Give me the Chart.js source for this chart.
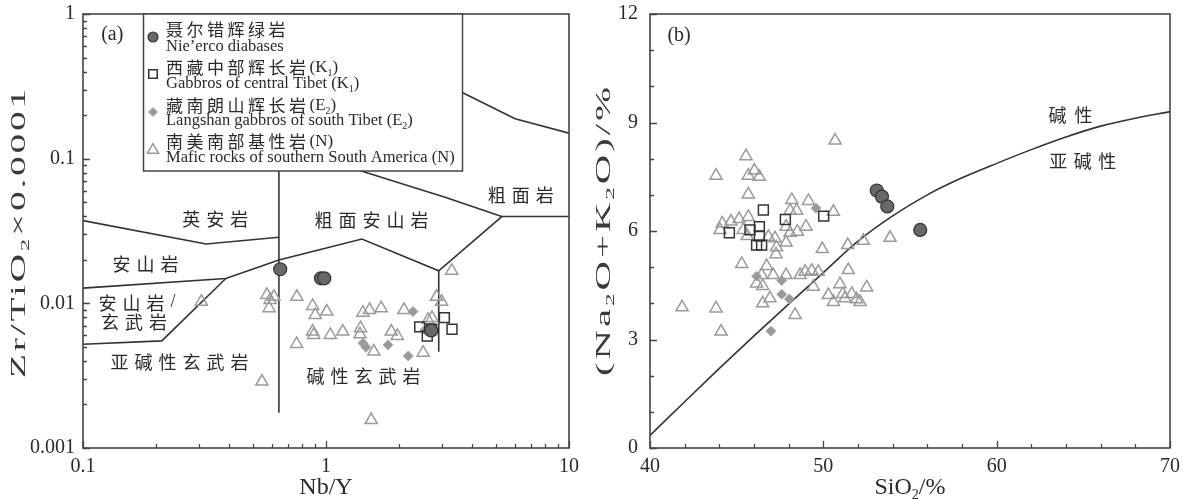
<!DOCTYPE html>
<html>
<head>
<meta charset="utf-8">
<script src="https://cdn.jsdelivr.net/npm/chart.js@4.4.0/dist/chart.umd.min.js"></script>
<style>
  body { margin: 0; background: #fff; width: 1183px; height: 499px; overflow: hidden; position: relative; }
  canvas { position: absolute; top: 0; }
  #chartA { left: 0; }
  #chartB { left: 590px; }
</style>
</head>
<body>
<canvas id="chartA" width="590" height="499"></canvas>
<canvas id="chartB" width="593" height="499"></canvas>
<script>
// ---------- panel (a): Zr/TiO2 vs Nb/Y ----------
const nbyTicks = [0.1, 1, 10];
const zrTicks = [0.001, 0.01, 0.1, 1];

const nieercoA = [[0.648, 0.0172], [0.953, 0.0149], [0.984, 0.0149], [2.71, 0.0065]];
const tibetA = [[2.43, 0.00687], [2.61, 0.00595], [3.07, 0.00797], [3.30, 0.00662], [2.72, 0.00662]];
const langshanA = [[2.28, 0.00877], [1.42, 0.0053], [1.46, 0.00497], [1.80, 0.00516], [2.18, 0.00433], [2.55, 0.00655]];
const maficA = [
  [0.307, 0.01027], [0.571, 0.01143], [0.611, 0.0111], [0.589, 0.01055], [0.583, 0.00925],
  [0.759, 0.0111], [0.757, 0.00524], [0.545, 0.00288], [0.881, 0.0096], [0.903, 0.00831],
  [1.007, 0.00877], [0.881, 0.00638], [0.89, 0.00605], [1.042, 0.00605], [1.172, 0.00638],
  [1.387, 0.00673], [1.38, 0.00611], [1.419, 0.00862], [1.51, 0.0090], [1.687, 0.00925],
  [1.573, 0.00464], [1.535, 0.00156], [1.857, 0.00638], [1.965, 0.00595], [2.094, 0.0090],
  [2.51, 0.00456], [2.63, 0.00768], [2.73, 0.00792], [2.85, 0.0111], [2.99, 0.01027], [3.29, 0.01683]
];

// field boundaries (Winchester & Floyd)
const fieldLinesA = [
  [[0.1, 0.0373], [0.321, 0.0257], [0.64, 0.0286]],
  [[0.64, 0.09], [0.64, 0.00175]],
  [[0.1, 0.01273], [0.387, 0.01486], [0.64, 0.0199], [1.405, 0.0278], [2.91, 0.0168], [5.29, 0.0398], [10, 0.0398]],
  [[0.1, 0.00521], [0.211, 0.0055], [0.387, 0.01486]],
  [[2.91, 0.0168], [2.91, 0.00463]],
  [[1.2, 0.089], [3.09, 0.0541], [5.29, 0.0398]],
  [[3.4, 0.303], [6.0, 0.189], [10, 0.150]]
];

const fieldNamesA = ['英安岩', '粗面安山岩', '粗面岩', '安山岩', '安山岩/', '玄武岩', '亚碱性玄武岩', '碱性玄武岩'];
const fieldAtA = [[0.3605, 0.0383], [1.582, 0.0373], [6.51, 0.0556], [0.186, 0.01867], [0.167, 0.0101], [0.167, 0.00736], [0.2565, 0.00389], [1.467, 0.00314]];

// ---------- panel (b): TAS alkaline / subalkaline ----------
const sio2Ticks = [40, 50, 60, 70];
const alkTicks = [0, 3, 6, 9, 12];

const nieercoB = [[53.08, 7.12], [53.38, 6.95], [53.69, 6.68], [55.59, 6.03]];
const tibetB = [[44.58, 5.95], [46.54, 6.58], [46.31, 6.12], [46.31, 5.86], [46.15, 5.61], [46.44, 5.61], [47.81, 6.32], [50.02, 6.41], [45.77, 6.03]];
const langshanB = [[49.58, 6.63], [47.6, 4.25], [48.04, 4.12], [46.98, 3.23], [46.15, 4.75], [47.6, 4.63]];
const maficB = [
  [50.68, 8.50], [45.54, 8.07], [43.81, 7.53], [46.02, 7.67], [45.67, 7.53], [46.31, 7.50], [45.67, 7.01],
  [48.18, 6.86], [49.14, 6.83], [48.08, 6.56], [48.46, 6.56], [50.58, 6.53], [44.17, 6.21], [44.67, 6.26],
  [45.14, 6.33], [45.67, 6.39], [44.04, 6.03], [45.38, 6.03], [45.61, 5.86], [46.83, 5.84], [47.21, 5.80],
  [47.85, 6.12], [48.08, 5.95], [48.5, 5.98], [49.0, 6.12], [47.85, 5.68], [47.3, 5.55], [47.27, 5.36],
  [49.94, 5.50], [51.41, 5.61], [52.31, 5.73], [53.85, 5.81], [45.29, 5.09], [46.73, 5.03],
  [46.44, 4.78], [47.11, 4.78], [47.85, 4.78], [48.66, 4.78], [48.95, 4.87], [49.33, 4.90], [49.71, 4.87],
  [51.44, 4.92], [46.15, 4.55], [46.5, 4.48], [49.42, 4.46], [50.96, 4.53], [52.5, 4.44], [46.92, 4.14],
  [46.5, 4.0], [50.29, 4.23], [50.58, 4.04], [51.12, 4.26], [51.25, 4.14], [51.64, 4.26], [51.92, 4.11],
  [52.12, 4.04], [41.85, 3.89], [43.81, 3.86], [48.37, 3.68], [44.1, 3.22]
];

// Irvine & Baragar boundary
const boundarySiO2 = [40, 42, 44, 46, 48, 50, 52, 54, 56, 58, 60, 62, 64, 66, 68, 70];
const boundaryAlk = [0.35, 1.28, 2.2, 3.1, 3.98, 4.85, 5.72, 6.42, 7.0, 7.47, 7.87, 8.25, 8.6, 8.9, 9.12, 9.3];

const seriesNames = [
  ['聂尔错辉绿岩', 'Nie’erco diabases'],
  ['西藏中部辉长岩(K_1)', 'Gabbros of central Tibet (K_1)'],
  ['藏南朗山辉长岩(E_2)', 'Langshan gabbros of south Tibet (E_2)'],
  ['南美南部基性岩(N)', 'Mafic rocks of southern South America (N)']
];

// ---------- drawing helpers ----------
const SERIF = "'Liberation Serif', 'Noto Sans CJK SC', serif";
const CJK = "'Noto Sans CJK SC', 'Liberation Serif', sans-serif";
const INK = '#2a2a2a';

const styles = {
  nieerco: { pointStyle: 'circle', radius: 6.5, backgroundColor: '#686868', borderColor: '#333', borderWidth: 1.2 },
  tibet: { pointStyle: 'rect', radius: 7, backgroundColor: 'rgba(255,255,255,0)', borderColor: '#333', borderWidth: 1.5 },
  langshan: { pointStyle: 'rectRot', radius: 5, backgroundColor: '#999', borderColor: '#aaa', borderWidth: 1 },
  mafic: { pointStyle: 'triangle', radius: 7, backgroundColor: 'rgba(255,255,255,0)', borderColor: '#9a9a9a', borderWidth: 1.5 }
};

function runs(str) {
  const out = [];
  for (let i = 0; i < str.length; i++) {
    let ch = str[i], kind;
    if (ch === '_') { ch = str[++i]; kind = 'sub'; }
    else kind = /[\u3000-\u9fff\uff00-\uffef]/.test(ch) ? 'cjk' : 'txt';
    const last = out[out.length - 1];
    if (last && last.kind === kind) last.t += ch; else out.push({ t: ch, kind });
  }
  return out;
}

function setRun(ctx, r, size, spacing, latinSpacing) {
  if (r.kind === 'sub') { ctx.font = Math.round(size * 0.6) + 'px ' + SERIF; ctx.letterSpacing = latinSpacing + 'px'; }
  else if (r.kind === 'cjk') { ctx.font = size + 'px ' + CJK; ctx.letterSpacing = spacing + 'px'; }
  else { ctx.font = size + 'px ' + SERIF; ctx.letterSpacing = latinSpacing + 'px'; }
}

function measureRich(ctx, str, size, spacing, latinSpacing = 0) {
  const rs = runs(str);
  let w = 0;
  rs.forEach(r => { setRun(ctx, r, size, spacing, latinSpacing); r.w = ctx.measureText(r.t).width; w += r.w; });
  return { rs, w };
}

function richText(ctx, str, x, y, size, spacing = 0, align = 'center', color = INK, latinSpacing = 0) {
  const { rs, w } = measureRich(ctx, str, size, spacing, latinSpacing);
  let cx = align === 'center' ? x - w / 2 : align === 'right' ? x - w : x;
  ctx.save();
  ctx.fillStyle = color;
  ctx.textAlign = 'left';
  ctx.textBaseline = 'middle';
  rs.forEach(r => {
    setRun(ctx, r, size, spacing, latinSpacing);
    ctx.fillText(r.t, cx, r.kind === 'sub' ? y + size * 0.3 : y);
    cx += r.w;
  });
  ctx.restore();
}

// y title: long like the reference (some letter spacing, rest stretch)
function yTitle(ctx, str, x, y, size, length) {
  const gap = 1.5;
  const { w } = measureRich(ctx, str, size, 0, gap);
  ctx.save();
  ctx.translate(x, y);
  ctx.rotate(-Math.PI / 2);
  ctx.scale(length / w, 1);
  richText(ctx, str, 0, 0, size, 0, 'center', '#3a3a3a', gap);
  ctx.restore();
}

function inwardTicks(ctx, chart, xMinor, xMajor, yMinor, yMajor) {
  const a = chart.chartArea, xs = chart.scales.x, ys = chart.scales.y;
  ctx.save();
  ctx.strokeStyle = '#444';
  ctx.lineWidth = 1.3;
  ctx.beginPath();
  const xt = (vals, len) => vals.forEach(v => { const p = Math.round(xs.getPixelForValue(v)) + 0.5; ctx.moveTo(p, a.bottom); ctx.lineTo(p, a.bottom - len); });
  const yt = (vals, len) => vals.forEach(v => { const p = Math.round(ys.getPixelForValue(v)) + 0.5; ctx.moveTo(a.left, p); ctx.lineTo(a.left + len, p); });
  xt(xMinor, 4); xt(xMajor, 7); yt(yMinor, 4); yt(yMajor, 7);
  ctx.stroke();
  ctx.lineWidth = 1.6;
  ctx.strokeRect(a.left, a.top, a.right - a.left, a.bottom - a.top);
  ctx.restore();
}

const logMinor = (decades) => decades.flatMap(d => [2, 3, 4, 5, 6, 7, 8, 9].map(m => m * d));

const toPts = arr => arr.map(([x, y]) => ({ x, y }));

function pointSet(label, data, st, order) {
  return {
    label, data: toPts(data), order,
    pointStyle: st.pointStyle, pointRadius: st.radius,
    pointBackgroundColor: st.backgroundColor, pointBorderColor: st.borderColor,
    pointBorderWidth: st.borderWidth, showLine: false
  };
}

function lineSet(data, order = 20) {
  return {
    data: toPts(data), order, showLine: true, pointRadius: 0,
    borderColor: '#333', borderWidth: 1.6, tension: 0, fill: false
  };
}

// fixed axis box, no extra label padding so the plot area sits where the reference has it
function axisOpts(type, min, max, ticks, size, pad) {
  return {
    type, min, max,
    afterFit: s => {
      if (s.isHorizontal()) s.height = size; else s.width = size;
      s.paddingTop = 0; s.paddingBottom = 0; s.paddingLeft = 0; s.paddingRight = 0;
    },
    afterBuildTicks: s => { s.ticks = ticks.map(v => ({ value: v })); },
    ticks: { autoSkip: false, maxRotation: 0, padding: pad, color: INK, font: { family: SERIF, size: 20 }, callback: v => String(v) },
    grid: { display: false, drawTicks: false },
    border: { display: false }
  };
}

const baseOpts = {
  responsive: false,
  animation: false,
  events: [],
  plugins: { legend: { display: false }, tooltip: { enabled: false } }
};

// ---------- chart (a) ----------
const decorA = {
  id: 'decorA',
  afterDraw(chart) {
    const ctx = chart.ctx, xs = chart.scales.x, ys = chart.scales.y;
    inwardTicks(ctx, chart, logMinor([0.1, 1]), nbyTicks, logMinor([0.001, 0.01, 0.1]), zrTicks);

    fieldNamesA.forEach((t, i) => {
      richText(ctx, t, xs.getPixelForValue(fieldAtA[i][0]), ys.getPixelForValue(fieldAtA[i][1]), 18, 6);
    });
    richText(ctx, '(a)', xs.getPixelForValue(0.132), ys.getPixelForValue(0.715), 20);

    // legend box
    ctx.save();
    ctx.fillStyle = '#fff';
    ctx.fillRect(143, 14, 319, 157);
    ctx.strokeStyle = '#444';
    ctx.lineWidth = 1.5;
    ctx.strokeRect(143.5, 14, 319, 157);
    ctx.restore();
    const keys = ['nieerco', 'tibet', 'langshan', 'mafic'];
    const zhY = [30, 68, 106, 142], enY = [47, 84, 121, 158], mkY = [37, 74, 112, 150];
    const legendSize = { nieerco: 5, tibet: 6, langshan: 4.5, mafic: 6.5 };
    keys.forEach((k, i) => {
      const st = styles[k];
      ctx.save();
      ctx.fillStyle = st.backgroundColor;
      ctx.strokeStyle = st.borderColor;
      ctx.lineWidth = st.borderWidth;
      Chart.helpers.drawPoint(ctx, { pointStyle: st.pointStyle, radius: legendSize[k], rotation: 0, borderWidth: st.borderWidth }, 153, mkY[i]);
      ctx.restore();
      richText(ctx, seriesNames[i][0], 166, zhY[i], 17, 3.5, 'left');
      richText(ctx, seriesNames[i][1], 166, enY[i], 16.5, 0, 'left');
    });

    richText(ctx, 'Nb/Y', (chart.chartArea.left + chart.chartArea.right) / 2, 488, 24);
    yTitle(ctx, 'Zr/TiO_2×0.0001', 19, 232, 21, 292);
  }
};

new Chart(document.getElementById('chartA'), {
  type: 'scatter',
  data: {
    datasets: [
      pointSet(seriesNames[0][1], nieercoA, styles.nieerco, 1),
      pointSet(seriesNames[1][1], tibetA, styles.tibet, 2),
      pointSet(seriesNames[2][1], langshanA, styles.langshan, 3),
      pointSet(seriesNames[3][1], maficA, styles.mafic, 4),
      ...fieldLinesA.map(l => lineSet(l))
    ]
  },
  options: {
    ...baseOpts,
    layout: { padding: { top: 14, right: 21, left: 0, bottom: 0 } },
    scales: {
      x: axisOpts('logarithmic', 0.1, 10, nbyTicks, 51, 7),
      y: axisOpts('logarithmic', 0.001, 1, zrTicks, 83, 8)
    }
  },
  plugins: [decorA]
});

// ---------- chart (b) ----------
const decorB = {
  id: 'decorB',
  afterDraw(chart) {
    const ctx = chart.ctx, xs = chart.scales.x, ys = chart.scales.y;
    inwardTicks(ctx, chart, [42, 44, 46, 48, 52, 54, 56, 58, 62, 64, 66, 68], sio2Ticks,
      [1, 2, 4, 5, 7, 8, 10, 11], alkTicks);
    richText(ctx, '(b)', xs.getPixelForValue(41.68), ys.getPixelForValue(11.39), 20);
    richText(ctx, '碱性', xs.getPixelForValue(64.49), ys.getPixelForValue(9.21), 18, 8);
    richText(ctx, '亚碱性', xs.getPixelForValue(65.15), ys.getPixelForValue(7.92), 18, 6.5);
    richText(ctx, 'SiO_2/%', (chart.chartArea.left + chart.chartArea.right) / 2, 488, 24);
    yTitle(ctx, '(Na_2O+K_2O)/%', 14, 230, 21, 292);
  }
};

new Chart(document.getElementById('chartB'), {
  type: 'scatter',
  data: {
    datasets: [
      pointSet(seriesNames[0][1], nieercoB, styles.nieerco, 1),
      pointSet(seriesNames[1][1], tibetB, styles.tibet, 2),
      pointSet(seriesNames[2][1], langshanB, styles.langshan, 3),
      pointSet(seriesNames[3][1], maficB, styles.mafic, 4),
      { ...lineSet(boundarySiO2.map((s, i) => [s, boundaryAlk[i]])), tension: 0.4, cubicInterpolationMode: 'monotone' }
    ]
  },
  options: {
    ...baseOpts,
    layout: { padding: { top: 14, right: 13, left: 0, bottom: 0 } },
    scales: {
      x: axisOpts('linear', 40, 70, sio2Ticks, 51, 7),
      y: axisOpts('linear', 0, 12, alkTicks, 60, 12)
    }
  },
  plugins: [decorB]
});
</script>
</body>
</html>
